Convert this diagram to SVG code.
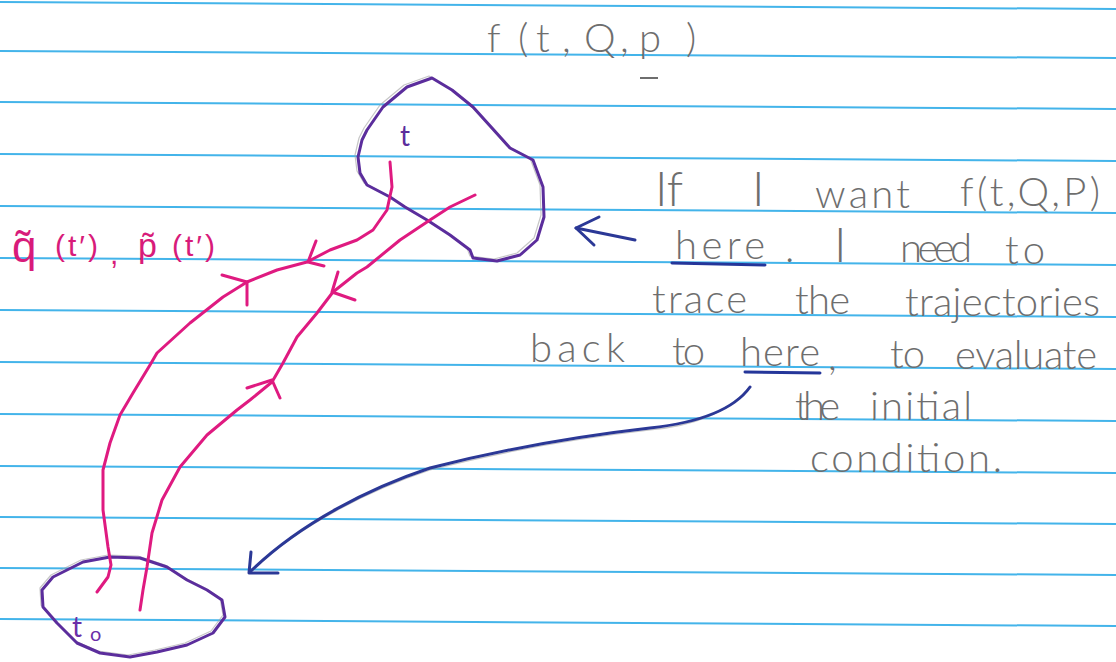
<svg xmlns="http://www.w3.org/2000/svg" width="1116" height="662" viewBox="0 0 1116 662">
<defs>
<style>
.rule{stroke:#43b4ea;stroke-width:2;fill:none}
.pencil{font-family:Lato,"Liberation Sans",sans-serif;font-weight:300;fill:#6e6e6e;font-size:40px}
.ink{fill:none;stroke-linecap:round;stroke-linejoin:round}
.violet{stroke:#5b2d9c;stroke-width:3}
.shadow{stroke:#a0a0a0;stroke-width:1.2;opacity:0.6}
.pink{stroke:#df1a80;stroke-width:3}
.blue{stroke:#2b3896;stroke-width:3}
.pinktext{font-family:"Liberation Sans",sans-serif;fill:#d81b7a;font-size:30px;letter-spacing:3px}
</style>
</defs>
<rect width="1116" height="662" fill="#ffffff"/>
<g id="paper">
<line class="rule" x1="0" y1="2" x2="1116" y2="9"/>
<line class="rule" x1="0" y1="51" x2="1116" y2="58"/>
<line class="rule" x1="0" y1="102" x2="1116" y2="109"/>
<line class="rule" x1="0" y1="154" x2="1116" y2="161"/>
<line class="rule" x1="0" y1="206" x2="1116" y2="213"/>
<line class="rule" x1="0" y1="258" x2="1116" y2="265"/>
<line class="rule" x1="0" y1="310" x2="1116" y2="317"/>
<line class="rule" x1="0" y1="362" x2="1116" y2="369"/>
<line class="rule" x1="0" y1="414" x2="1116" y2="421"/>
<line class="rule" x1="0" y1="466" x2="1116" y2="473"/>
<line class="rule" x1="0" y1="517" x2="1116" y2="524"/>
<line class="rule" x1="0" y1="568" x2="1116" y2="575"/>
<line class="rule" x1="0" y1="619" x2="1116" y2="626"/>
</g>
<g id="title">
<text class="pencil" style="font-size:40px" y="52"><tspan x="487">f</tspan><tspan x="518">(</tspan><tspan x="536">t</tspan><tspan x="562">,</tspan><tspan x="584">Q</tspan><tspan x="620">,</tspan><tspan x="639">p</tspan><tspan x="686">)</tspan></text>
<line x1="640" y1="78" x2="658" y2="78" stroke="#6e6e6e" stroke-width="2"/>
</g>
<g id="region-t">
<path class="ink shadow" transform="translate(-3,-2)" d="M432,78 L452,90 L473,107 L492,128 L510,148 L533,160 L543,187 L544,217 L537,240 L520,255 L497,261 L473,258 L470,250 L450,235 L427,220 L405,207 L390,197 L367,185 L360,173 L358,157 L362,140 L367,130 L383,107 L407,87 Z"/>
<path class="ink violet" d="M432,78 L452,90 L473,107 L492,128 L510,148 L533,160 L543,187 L544,217 L537,240 L520,255 L497,261 L473,258 L470,250 L450,235 L427,220 L405,207 L390,197 L367,185 L360,173 L358,157 L362,140 L367,130 L383,107 L407,87 Z"/>
<text x="400" y="146" style="font-family:Lato,'Liberation Sans',sans-serif;font-size:28px;fill:#5b2d9c">t</text>
</g>
<g id="region-t0">
<path class="ink shadow" transform="translate(-2,-2)" d="M110,557 L83,562 L53,577 L42,590 L43,607 L57,623 L77,643 L100,653 L130,657 L157,652 L187,645 L213,633 L225,617 L222,600 L207,590 L187,580 L167,567 L140,558 Z"/>
<path class="ink violet" d="M110,557 L83,562 L53,577 L42,590 L43,607 L57,623 L77,643 L100,653 L130,657 L157,652 L187,645 L213,633 L225,617 L222,600 L207,590 L187,580 L167,567 L140,558 Z"/>
<text x="72" y="637" style="font-family:Lato,'Liberation Sans',sans-serif;font-size:28px;fill:#6a2fa8">t<tspan dx="8" dy="4" style="font-size:20px">o</tspan></text>
</g>
<g id="label-qp">
<text class="pinktext" x="12" y="262" style="font-size:44px;letter-spacing:0">q̃</text>
<text class="pinktext" x="55" y="256">(t′)</text>
<text class="pinktext" x="110" y="264">,</text>
<text class="pinktext" x="138" y="257" style="font-size:34px;letter-spacing:0">p̃</text>
<text class="pinktext" x="172" y="256">(t′)</text>
</g>
<g id="note">
<text class="pencil" x="655" y="206" style="font-size:48px">If</text>
<text class="pencil" x="752" y="206" style="font-size:48px">I</text>
<text class="pencil" x="815" y="208" textLength="95" lengthAdjust="spacing">want</text>
<text class="pencil" x="960" y="206" textLength="140" lengthAdjust="spacing">f(t,Q,P)</text>
<text class="pencil" x="675" y="259" textLength="90" lengthAdjust="spacing">here</text>
<text class="pencil" x="785" y="262">.</text>
<text class="pencil" x="834" y="262" style="font-size:48px">I</text>
<text class="pencil" x="900" y="262" textLength="72" lengthAdjust="spacing">need</text>
<text class="pencil" x="1005" y="264" textLength="40" lengthAdjust="spacing">to</text>
<text class="pencil" x="652" y="313" textLength="95" lengthAdjust="spacing">trace</text>
<text class="pencil" x="795" y="314" textLength="55" lengthAdjust="spacing">the</text>
<text class="pencil" x="905" y="316" textLength="195" lengthAdjust="spacing">trajectories</text>
<text class="pencil" x="530" y="362" textLength="95" lengthAdjust="spacing">back</text>
<text class="pencil" x="672" y="365" textLength="33" lengthAdjust="spacing">to</text>
<text class="pencil" x="740" y="366" textLength="80" lengthAdjust="spacing">here</text>
<text class="pencil" x="828" y="370">,</text>
<text class="pencil" x="890" y="368" textLength="35" lengthAdjust="spacing">to</text>
<text class="pencil" x="955" y="369" textLength="142" lengthAdjust="spacing">evaluate</text>
<text class="pencil" x="795" y="420" textLength="45" lengthAdjust="spacing">the</text>
<text class="pencil" x="870" y="420" textLength="102" lengthAdjust="spacing">initial</text>
<text class="pencil" x="810" y="472" textLength="192" lengthAdjust="spacing">condition.</text>
<line x1="672" y1="263" x2="765" y2="265" stroke="#25369a" stroke-width="3" stroke-linecap="round"/>
<line x1="745" y1="372" x2="820" y2="373" stroke="#25369a" stroke-width="3" stroke-linecap="round"/>
</g>
<g id="connectors">
<path class="ink pink" d="M390,162 L392,187 L387,210 L373,230 L357,240 L330,250 L307,262 L277,270 L247,282 L223,297 L190,323 L157,353 L150,365 L133,393 L120,415 L110,443 L103,470 L103,510 L108,547 L111,565 L108,577 L97,592"/>
<path class="ink pink" d="M475,195 L450,207 L430,220 L400,240 L367,267 L357,273 L333,292 L317,313 L297,337 L283,363 L272,382 L250,400 L237,410 L207,435 L180,467 L162,500 L152,533 L147,567 L143,590 L140,610"/>
<path class="ink pink" d="M316,241 L308,262 L324,266"/>
<path class="ink pink" d="M222,275 L247,282 L247,305"/>
<path class="ink pink" d="M338,272 L332,292 L355,300"/>
<path class="ink pink" d="M247,388 L272,380 L280,398"/>
<path class="ink shadow" d="M748,389 C730,410 700,425 650,430 C580,438 500,452 430,470 C370,490 300,525 252,570"/>
<path class="ink blue" d="M750,387 C735,408 705,422 650,428 C580,436 500,450 430,468 C370,488 300,523 250,572"/>
<path class="ink blue" d="M251,552 L249,573 L278,573"/>
<path class="ink blue" d="M635,240 L576,228"/>
<path class="ink blue" d="M599,217 L576,228 L594,245"/>
</g>
</svg>
